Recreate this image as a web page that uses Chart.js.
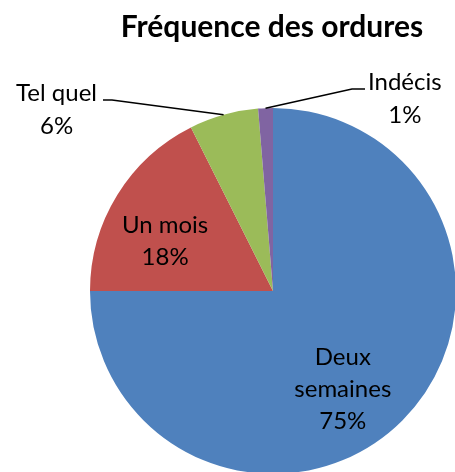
<!DOCTYPE html>
<html><head><meta charset="utf-8">
<script src="https://cdn.jsdelivr.net/npm/chart.js@4/dist/chart.umd.min.js"></script>
<style>html,body{margin:0;padding:0;overflow:hidden;background:#fff;width:455px;height:472px}canvas{position:absolute;left:0;top:0}</style>
</head><body>
<canvas id="c" width="560" height="600"></canvas>
<script>
const title = "Fréquence des ordures";
const categories = ["Deux semaines", "Un mois", "Tel quel", "Indécis"];
const values = [75.0, 17.6, 6.1, 1.3];
const percentLabels = ["75%", "18%", "6%", "1%"];
const labelLines = [["Deux", "semaines", "75%"], ["Un mois", "18%"], ["Tel quel", "6%"], ["Indécis", "1%"]];
const colors = ["#4F81BD", "#C0504D", "#9BBB59", "#8064A2"];

// label placement (layout only)
const FONT = "Lato, 'Open Sans', sans-serif";
const labelLayout = [
  {mode: "inside", k: 0.66, shift: 9.7},
  {mode: "inside", k: 0.65, shift: -6.8},
  {mode: "outside", elbow: [-161, -191], end: [-170, -191], align: "right", gap: 6},
  {mode: "outside", elbow: [79, -202], end: [92, -202], align: "left", gap: 3}
];

const labelPlugin = {
  id: "labels",
  afterDraw(chart) {
    const ctx = chart.ctx;
    const meta = chart.getDatasetMeta(0);
    ctx.save();
    ctx.fillStyle = "#000";
    ctx.font = "bold 30px " + FONT;
    ctx.textAlign = "center";
    ctx.textBaseline = "alphabetic";
    ctx.fillText(title, 272, 37);

    ctx.font = "24px " + FONT;
    const lh = 32;
    meta.data.forEach((arc, i) => {
      const p = arc.getProps(["x", "y", "startAngle", "endAngle", "outerRadius"], true);
      const mid = (p.startAngle + p.endAngle) / 2;
      const L = labelLayout[i];
      const lines = labelLines[i];
      if (L.mode === "inside") {
        const a = mid + L.shift * Math.PI / 180;
        const cx = p.x + Math.cos(a) * p.outerRadius * L.k;
        const cy = p.y + Math.sin(a) * p.outerRadius * L.k;
        ctx.textAlign = "center";
        ctx.textBaseline = "middle";
        const top = cy - (lines.length - 1) * lh / 2;
        lines.forEach((t, j) => ctx.fillText(t, cx, top + j * lh));
      } else {
        const sx = p.x + Math.cos(mid) * p.outerRadius;
        const sy = p.y + Math.sin(mid) * p.outerRadius;
        const ex = p.x + L.elbow[0], ey = p.y + L.elbow[1];
        const tx = p.x + L.end[0], ty = p.y + L.end[1];
        ctx.strokeStyle = "#000";
        ctx.lineWidth = 1.5;
        ctx.beginPath();
        ctx.moveTo(sx, sy); ctx.lineTo(ex, ey); ctx.lineTo(tx, ty);
        ctx.stroke();
        ctx.textBaseline = "alphabetic";
        ctx.textAlign = "center";
        const w = ctx.measureText(lines[0]).width;
        const cx = L.align === "right" ? tx - L.gap - w / 2 : tx + L.gap + w / 2;
        ctx.fillText(lines[0], cx, ty + 1);
        ctx.fillText(lines[1], cx, ty + 1 + 33);
      }
    });
    ctx.restore();
  }
};

new Chart(document.getElementById("c"), {
  type: "pie",
  data: {
    labels: categories,
    datasets: [{data: values, backgroundColor: colors, borderWidth: 0, hoverOffset: 0}]
  },
  options: {
    responsive: false,
    animation: false,
    layout: {padding: {left: 90, top: 108, right: 104, bottom: 126}},
    plugins: {legend: {display: false}, tooltip: {enabled: false}, title: {display: false}}
  },
  plugins: [labelPlugin]
});
</script>
</body></html>
